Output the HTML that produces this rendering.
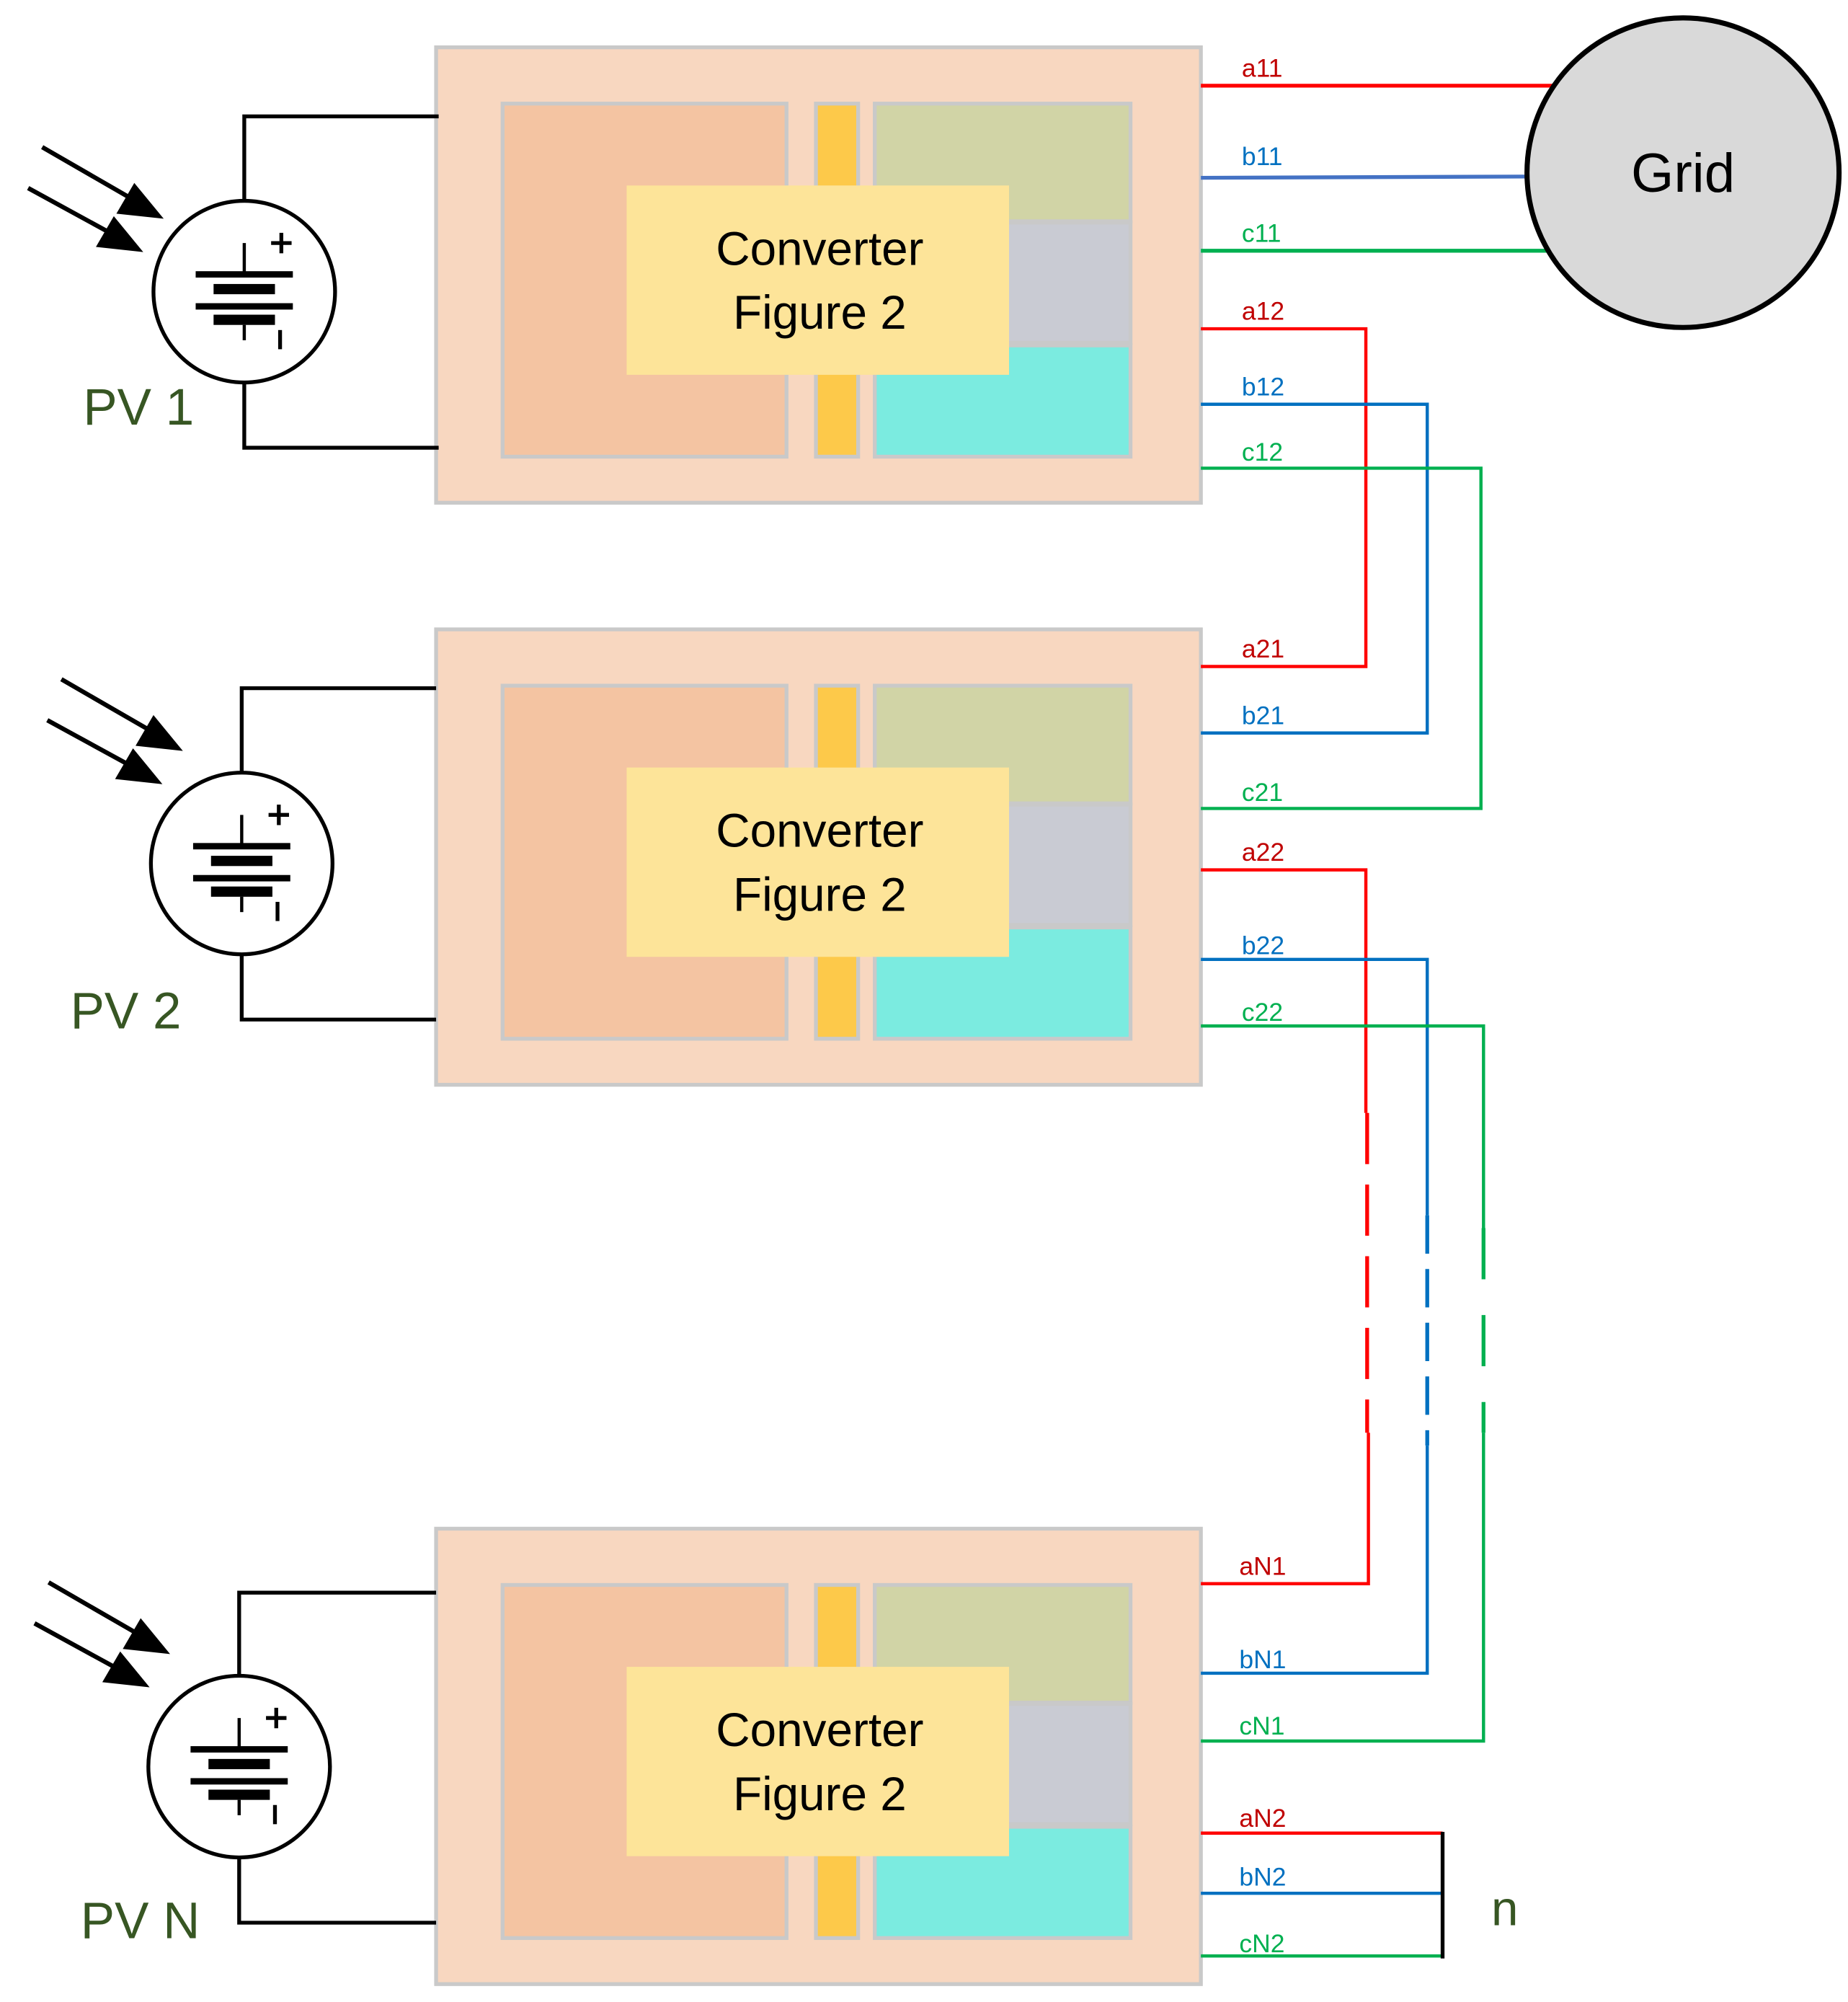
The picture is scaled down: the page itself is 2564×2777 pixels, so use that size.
<!DOCTYPE html>
<html><head><meta charset="utf-8"><style>
html,body{margin:0;padding:0;background:#fff;}
svg{display:block;}
text{font-family:"Liberation Sans",sans-serif;}
</style></head><body>
<svg width="2564" height="2777" viewBox="0 0 1445 1565" preserveAspectRatio="none" xmlns="http://www.w3.org/2000/svg">
<defs>
<g id="conv">
<rect x="341" y="37" width="598" height="356" fill="#f8d7c0" stroke="#c9c9c9" stroke-width="3"/>
<rect x="393" y="81" width="222" height="276" fill="#f4c4a2" stroke="#c9c9c9" stroke-width="3"/>
<rect x="638" y="81" width="33" height="276" fill="#fdc94a" stroke="#c9c9c9" stroke-width="3"/>
<rect x="684" y="81" width="200" height="92" fill="#d1d4a6" stroke="#c9c9c9" stroke-width="3"/>
<rect x="684" y="174" width="200" height="94" fill="#c9cbd3" stroke="#c9c9c9" stroke-width="3"/>
<rect x="684" y="270" width="200" height="87" fill="#7bebe0" stroke="#c9c9c9" stroke-width="3"/>
<rect x="490" y="145" width="299" height="148" fill="#fde499"/>
<text x="641" y="207" font-size="37" text-anchor="middle" fill="#000">Converter</text>
<text x="641" y="257" font-size="37" text-anchor="middle" fill="#000">Figure 2</text>
</g>
<g id="pv">
<circle cx="0" cy="0" r="71" fill="#fff" stroke="#000" stroke-width="3"/>
<line x1="0" y1="-38" x2="0" y2="-13" stroke="#000" stroke-width="2.5"/>
<rect x="-38" y="-16" width="76" height="5" fill="#000"/>
<rect x="-24" y="-6" width="48" height="8" fill="#000"/>
<rect x="-38" y="9" width="76" height="5" fill="#000"/>
<rect x="-24" y="18" width="48" height="8" fill="#000"/>
<line x1="0" y1="26" x2="0" y2="38" stroke="#000" stroke-width="2.5"/>
<line x1="29" y1="-46" x2="29" y2="-30" stroke="#000" stroke-width="3"/>
<line x1="21" y1="-38" x2="37" y2="-38" stroke="#000" stroke-width="3"/>
<line x1="28" y1="30" x2="28" y2="45" stroke="#000" stroke-width="3"/>
</g>
<g id="arrows">
<line x1="0" y1="0" x2="78" y2="45" stroke="#000" stroke-width="3.5"/>
<polygon points="95,56 58,52 72,28" fill="#000"/>
<line x1="-11" y1="32" x2="64" y2="73" stroke="#000" stroke-width="3.5"/>
<polygon points="79,82 42,78 56,54" fill="#000"/>
</g>
</defs>

<use href="#conv"/>
<use href="#conv" transform="translate(0,455)"/>
<use href="#conv" transform="translate(0,1158)"/>

<polyline points="191,157 191,91 343,91" fill="none" stroke="#000" stroke-width="3"/>
<polyline points="191,299 191,350 343,350" fill="none" stroke="#000" stroke-width="3"/>
<use href="#pv" transform="translate(191,228)"/>
<use href="#arrows" transform="translate(33,115)"/>
<text x="65" y="332" font-size="40" fill="#375623">PV 1</text>

<polyline points="189,604 189,538 341,538" fill="none" stroke="#000" stroke-width="3"/>
<polyline points="189,746 189,797 341,797" fill="none" stroke="#000" stroke-width="3"/>
<use href="#pv" transform="translate(189,675)"/>
<use href="#arrows" transform="translate(48,531)"/>
<text x="55" y="804" font-size="40" fill="#375623">PV 2</text>

<polyline points="187,1310 187,1245 341,1245" fill="none" stroke="#000" stroke-width="3"/>
<polyline points="187,1452 187,1503 341,1503" fill="none" stroke="#000" stroke-width="3"/>
<use href="#pv" transform="translate(187,1381)"/>
<use href="#arrows" transform="translate(38,1237)"/>
<text x="63" y="1515" font-size="40" fill="#375623">PV N</text>

<line x1="939" y1="67" x2="1215" y2="67" stroke="#ff0000" stroke-width="3"/>
<line x1="939" y1="139" x2="1195" y2="138" stroke="#4472c4" stroke-width="3"/>
<line x1="939" y1="196" x2="1210" y2="196" stroke="#00b050" stroke-width="3"/>
<ellipse cx="1316" cy="135" rx="122" ry="121" fill="#d9d9d9" stroke="#000" stroke-width="4"/>
<text x="1316" y="150" font-size="43" text-anchor="middle" fill="#000">Grid</text>

<polyline points="939,257 1068,257 1068,521 939,521" fill="none" stroke="#ff0000" stroke-width="2.5"/>
<polyline points="939,316 1116,316 1116,573 939,573" fill="none" stroke="#0070c0" stroke-width="2.5"/>
<polyline points="939,366 1158,366 1158,632 939,632" fill="none" stroke="#00b050" stroke-width="2.5"/>

<polyline points="939,680 1068,680 1068,870" fill="none" stroke="#ff0000" stroke-width="2.5"/>
<line x1="1069" y1="870" x2="1069" y2="1120" stroke="#ff0000" stroke-width="3" stroke-dasharray="40,16"/>
<polyline points="1070,1120 1070,1238 939,1238" fill="none" stroke="#ff0000" stroke-width="2.5"/>
<polyline points="939,750 1116,750 1116,950" fill="none" stroke="#0070c0" stroke-width="2.5"/>
<line x1="1116" y1="950" x2="1116" y2="1130" stroke="#0070c0" stroke-width="3" stroke-dasharray="30,12"/>
<polyline points="1116,1130 1116,1308 939,1308" fill="none" stroke="#0070c0" stroke-width="2.5"/>
<polyline points="939,802 1160,802 1160,960" fill="none" stroke="#00b050" stroke-width="2.5"/>
<line x1="1160" y1="960" x2="1160" y2="1120" stroke="#00b050" stroke-width="3" stroke-dasharray="40,28"/>
<polyline points="1160,1120 1160,1361 939,1361" fill="none" stroke="#00b050" stroke-width="2.5"/>

<line x1="939" y1="1433" x2="1128" y2="1433" stroke="#ff0000" stroke-width="2.5"/>
<line x1="939" y1="1480" x2="1128" y2="1480" stroke="#0070c0" stroke-width="2.5"/>
<line x1="939" y1="1529" x2="1128" y2="1529" stroke="#00b050" stroke-width="2.5"/>
<line x1="1128" y1="1432" x2="1128" y2="1531" stroke="#000" stroke-width="3"/>
<text x="1166" y="1505" font-size="38" fill="#375623">n</text>

<g font-size="20">
<text x="971" y="60" fill="#c00000">a11</text>
<text x="971" y="129" fill="#0070c0">b11</text>
<text x="971" y="189" fill="#00b050">c11</text>
<text x="971" y="250" fill="#c00000">a12</text>
<text x="971" y="309" fill="#0070c0">b12</text>
<text x="971" y="360" fill="#00b050">c12</text>
<text x="971" y="514" fill="#c00000">a21</text>
<text x="971" y="566" fill="#0070c0">b21</text>
<text x="971" y="626" fill="#00b050">c21</text>
<text x="971" y="673" fill="#c00000">a22</text>
<text x="971" y="746" fill="#0070c0">b22</text>
<text x="971" y="798" fill="#00b050">c22</text>
<text x="969" y="1231" fill="#c00000">aN1</text>
<text x="969" y="1304" fill="#0070c0">bN1</text>
<text x="969" y="1356" fill="#00b050">cN1</text>
<text x="969" y="1428" fill="#c00000">aN2</text>
<text x="969" y="1474" fill="#0070c0">bN2</text>
<text x="969" y="1526" fill="#00b050">cN2</text>
</g>
</svg>
</body></html>
